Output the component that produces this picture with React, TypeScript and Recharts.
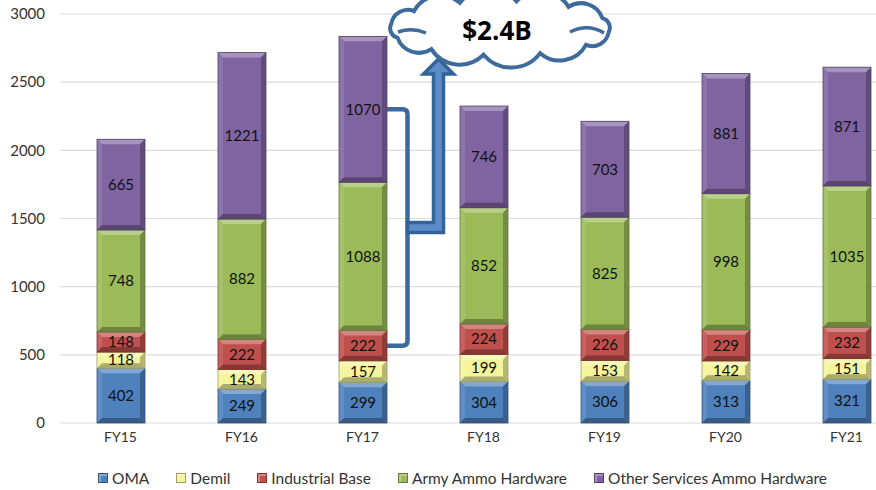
import React from 'react';
import { BarChart, Bar, XAxis, YAxis, CartesianGrid, LabelList, Customized } from 'recharts';

const categories = ['FY15', 'FY16', 'FY17', 'FY18', 'FY19', 'FY20', 'FY21'];
const oma = [402, 249, 299, 304, 306, 313, 321];
const demil = [118, 143, 157, 199, 153, 142, 151];
const industrialBase = [148, 222, 222, 224, 226, 229, 232];
const armyAmmo = [748, 882, 1088, 852, 825, 998, 1035];
const otherServices = [665, 1221, 1070, 746, 703, 881, 871];
const yTicks = [0, 500, 1000, 1500, 2000, 2500, 3000];
const calloutText = '$2.4B';

const seriesDefs = [
  { key: 'oma', name: 'OMA', values: oma, color: '#4F81BD' },
  { key: 'demil', name: 'Demil', values: demil, color: '#F4F49A' },
  { key: 'ib', name: 'Industrial Base', values: industrialBase, color: '#C0504D' },
  { key: 'army', name: 'Army Ammo Hardware', values: armyAmmo, color: '#9BBB59' },
  { key: 'other', name: 'Other Services Ammo Hardware', values: otherServices, color: '#8064A2' },
];

const data = categories.map((c, i) => {
  const row: any = { name: c };
  seriesDefs.forEach((s) => (row[s.key] = s.values[i]));
  return row;
});

const W = 920;
const H = 490;
const M = { top: 14, right: 13, left: 0, bottom: 37 };
const Y_W = 60;
const X_H = 30;
const Y_MAX = 3000;
const plotLeft = M.left + Y_W;
const plotW = W - M.right - plotLeft;
const plotTop = M.top;
const plotH = H - M.bottom - X_H - M.top;
const band = plotW / categories.length;
const BAR = 48;
const yPx = (v: number) => plotTop + plotH * (1 - v / Y_MAX);
const xCenter = (i: number) => plotLeft + band * (i + 0.5);

function shade(hex: string, amt: number) {
  const n = parseInt(hex.slice(1), 16);
  let r = (n >> 16) & 255, g = (n >> 8) & 255, b = n & 255;
  const f = (c: number) => (amt >= 0 ? Math.round(c + (255 - c) * amt) : Math.round(c * (1 + amt)));
  r = f(r); g = f(g); b = f(b);
  return `rgb(${r},${g},${b})`;
}

const BevelBar = (props: any) => {
  const { x, y, width, height, fill } = props;
  if (!height || height <= 0) return null;
  const b = Math.min(5, height / 2, width / 2);
  const x2 = x + width, y2 = y + height;
  return (
    <g>
      <rect x={x} y={y} width={width} height={height} fill={fill} />
      <polygon points={`${x},${y} ${x2},${y} ${x2 - b},${y + b} ${x + b},${y + b}`} fill={shade(fill, 0.3)} />
      <polygon points={`${x},${y} ${x + b},${y + b} ${x + b},${y2 - b} ${x},${y2}`} fill={shade(fill, 0.1)} />
      <polygon points={`${x2},${y} ${x2},${y2} ${x2 - b},${y2 - b} ${x2 - b},${y + b}`} fill={shade(fill, -0.25)} />
      <polygon points={`${x},${y2} ${x2},${y2} ${x2 - b},${y2 - b} ${x + b},${y2 - b}`} fill={shade(fill, -0.3)} />
      <rect x={x} y={y} width={width} height={height} fill="none" stroke={shade(fill, -0.35)} strokeWidth={0.8} />
    </g>
  );
};

const Annotation = () => {
  const i = 2;
  const cum = (k: number) => seriesDefs.slice(0, k).reduce((s, d) => s + d.values[i], 0);
  const barRight = xCenter(i) + BAR / 2;
  const topY = yPx(cum(4) + otherServices[i] / 2);
  const botY = yPx(cum(2) + industrialBase[i] / 2);
  const bx = barRight + 21;
  const midY = (topY + botY) / 2;
  const r = 5;
  const bracket = `M ${barRight} ${topY} L ${bx - r} ${topY} Q ${bx} ${topY} ${bx} ${topY + r} L ${bx} ${botY - r} Q ${bx} ${botY} ${bx - r} ${botY} L ${barRight} ${botY}`;
  const sx = bx + 31;
  const sw = 5;
  const headTop = 59;
  const headBase = 74;
  const arrow = `M ${bx} ${midY + 5} L ${sx + sw} ${midY + 5} L ${sx + sw} ${headBase} L ${sx + 15} ${headBase} L ${sx} ${headTop} L ${sx - 15} ${headBase} L ${sx - sw} ${headBase} L ${sx - sw} ${midY - 5} L ${bx} ${midY - 5} Z`;
  const cx = 500, cy = 28, rx = 110, ry = 27;
  const N = 12;
  const pts: [number, number][] = [];
  for (let k = 0; k <= N; k++) {
    const t = (k / N) * Math.PI * 2 + 0.15;
    pts.push([cx + rx * Math.cos(t), cy + ry * Math.sin(t)]);
  }
  let cloud = `M ${pts[0][0]} ${pts[0][1]}`;
  for (let k = 1; k <= N; k++) {
    const [ax, ay] = pts[k - 1];
    const [px, py] = pts[k];
    const d = Math.hypot(px - ax, py - ay);
    cloud += ` A ${d * 0.64} ${d * 0.64} 0 0 1 ${px} ${py}`;
  }
  cloud += ' Z';
  return (
    <g>
      <path d={bracket} fill="none" stroke="#3D6A9E" strokeWidth={4.5} strokeLinecap="round" />
      <path d={arrow} fill="#5B8CC8" stroke="#34639A" strokeWidth={3.5} strokeLinejoin="miter" />
      <path d={cloud} fill="#FFFFFF" stroke="#3E6A9C" strokeWidth={4} />
      <path d={`M ${cx - rx + 8} ${cy + 4} Q ${cx - rx + 22} ${cy - 1} ${cx - rx + 36} ${cy + 5}`} fill="none" stroke="#3E6A9C" strokeWidth={3.5} />
      <path d={`M ${cx + rx - 40} ${cy + 4} Q ${cx + rx - 22} ${cy - 5} ${cx + rx - 6} ${cy + 5}`} fill="none" stroke="#3E6A9C" strokeWidth={3.5} />
      <text x={cx - 3} y={cy + 2} textAnchor="middle" dominantBaseline="central" fontFamily="Open Sans, sans-serif" fontWeight={700} fontSize={26} fill="#000">
        {calloutText}
      </text>
    </g>
  );
};

export default function App() {
  return (
    <div style={{ position: 'fixed', top: 0, left: 0, width: 876, height: 490, overflow: 'hidden', background: '#fff', fontFamily: 'Lato, sans-serif' }}>
      <BarChart width={W} height={H} data={data} margin={M} barSize={BAR}>
        <CartesianGrid vertical={false} stroke="#DCDCDC" strokeWidth={1.2} />
        <XAxis dataKey="name" height={X_H} axisLine={false} tickLine={false} tickMargin={3} tick={{ fill: '#333', fontSize: 14, fontFamily: 'Lato, sans-serif' }} />
        <YAxis width={Y_W} domain={[0, Y_MAX]} ticks={yTicks} axisLine={false} tickLine={false} tickMargin={9} tick={{ fill: '#333', fontSize: 15, fontFamily: 'Lato, sans-serif' }} />
        {seriesDefs.map((s) => (
          <Bar key={s.key} dataKey={s.key} name={s.name} stackId="a" fill={s.color} isAnimationActive={false} shape={(p: any) => <BevelBar {...p} fill={s.color} />}>
            <LabelList dataKey={s.key} position="center" fill="#111" fontSize={15} fontFamily="Lato, sans-serif" />
          </Bar>
        ))}
        <Customized component={Annotation} />
      </BarChart>
      <div style={{ position: 'absolute', top: 469, left: 98, display: 'flex', alignItems: 'center', fontSize: 15.5, color: '#333', whiteSpace: 'nowrap' }}>
        {seriesDefs.map((s) => (
          <div key={s.key} style={{ display: 'flex', alignItems: 'center', marginRight: 27 }}>
            <span style={{ display: 'inline-block', boxSizing: 'border-box', width: 10, height: 10, background: s.color, border: `1px solid ${shade(s.color, -0.35)}`, boxShadow: `inset 2px 2px 0 ${shade(s.color, 0.3)}`, marginRight: 4 }} />
            <span>{s.name}</span>
          </div>
        ))}
      </div>
    </div>
  );
}
